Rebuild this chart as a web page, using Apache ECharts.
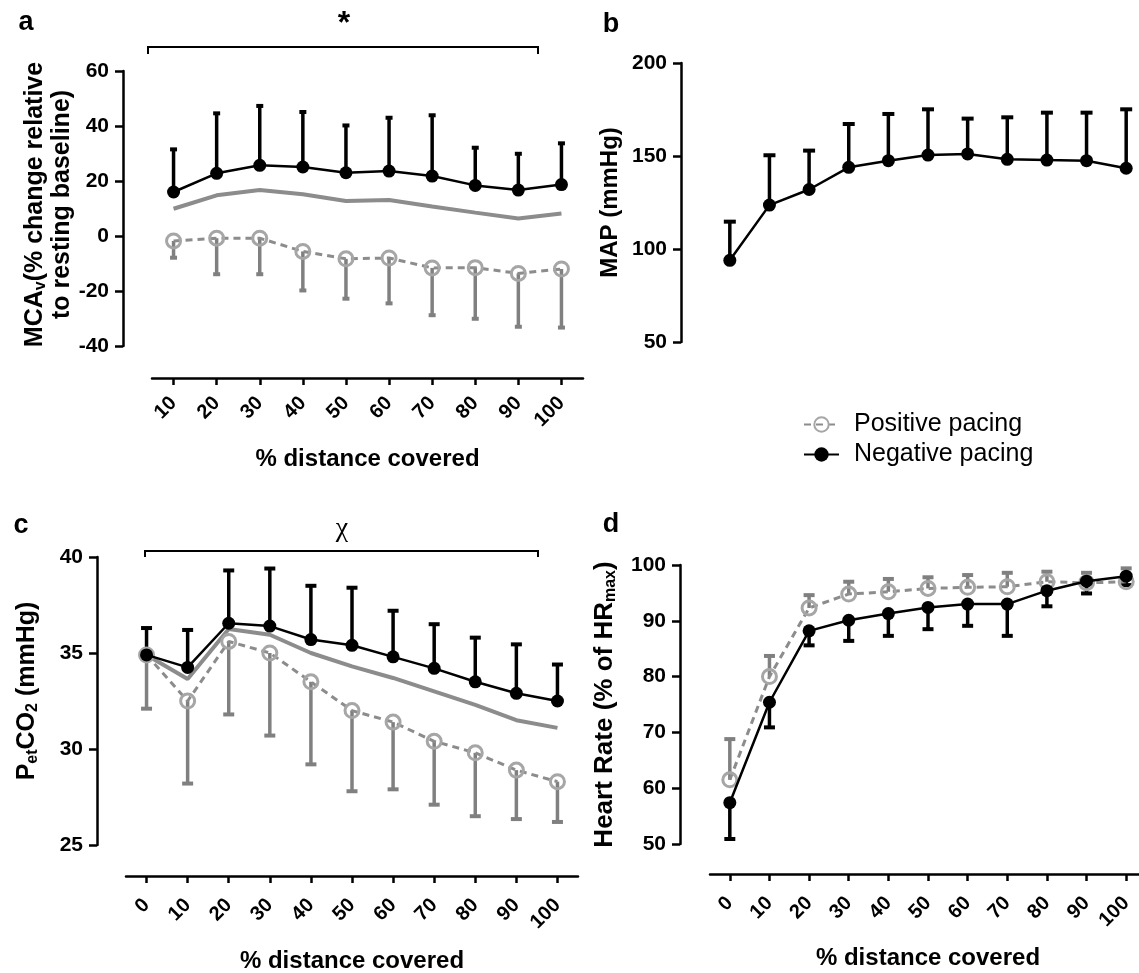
<!DOCTYPE html>
<html>
<head>
<meta charset="utf-8">
<title>Pacing strategy responses</title>
<script src="https://cdn.jsdelivr.net/npm/echarts@6/dist/echarts.min.js"></script>
<style>
  html, body { margin: 0; padding: 0; background: #fff; }
  #chart { width: 1139px; height: 973px; }
</style>
</head>
<body>
<div id="chart"></div>
<script>
// % distance covered
const distA = [10, 20, 30, 40, 50, 60, 70, 80, 90, 100];
const distB = [0, 10, 20, 30, 40, 50, 60, 70, 80, 90, 100];

// a: MCAv, % change relative to resting baseline
const mcaNeg = [16.0, 22.8, 25.7, 25.1, 23.0, 23.6, 21.8, 18.4, 16.7, 18.7];
const mcaNegTop = [31.5, 44.6, 47.3, 45.1, 40.2, 43.0, 43.9, 32.1, 29.9, 33.7];
const mcaPos = [-1.8, -0.8, -0.8, -5.6, -8.3, -8.0, -11.6, -11.5, -13.6, -12.0];
const mcaPosLow = [-7.9, -13.9, -13.9, -19.8, -22.8, -24.5, -28.8, -30.1, -33.0, -33.3];
const mcaAll = [9.9, 14.8, 16.7, 15.2, 12.7, 13.1, 10.7, 8.5, 6.4, 8.2];

// b: MAP (mmHg)
const mapNeg = [93.9, 123.6, 132.0, 143.9, 147.5, 150.5, 151.1, 148.2, 147.8, 147.5, 143.4];
const mapNegTop = [114.7, 150.4, 152.9, 167.2, 172.6, 175.1, 170.1, 170.8, 173.3, 173.3, 175.1];

// c: PetCO2 (mmHg)
const co2Neg = [34.9, 34.25, 36.55, 36.4, 35.7, 35.4, 34.8, 34.2, 33.5, 32.9, 32.5];
const co2NegTop = [36.3, 36.2, 39.3, 39.4, 38.5, 38.4, 37.2, 36.5, 35.8, 35.45, 34.4];
const co2Pos = [34.9, 32.5, 35.6, 35.0, 33.5, 32.0, 31.4, 30.4, 29.8, 28.9, 28.3];
const co2PosLow = [32.1, 28.2, 31.8, 30.7, 29.2, 27.8, 27.9, 27.1, 26.5, 26.35, 26.2];
const co2All = [34.9, 33.65, 36.25, 35.95, 35.0, 34.3, 33.7, 33.0, 32.3, 31.5, 31.1];

// d: heart rate (% of HRmax)
const hrNeg = [57.4, 75.4, 88.2, 90.1, 91.3, 92.4, 93.0, 93.0, 95.4, 97.1, 98.0];
const hrNegLow = [50.9, 70.9, 85.6, 86.4, 87.3, 88.5, 89.1, 87.3, 92.6, 94.9, 96.4];
const hrPos = [61.5, 80.0, 92.3, 94.8, 95.2, 95.8, 96.0, 96.1, 97.0, 96.8, 97.0];
const hrPosTop = [68.8, 83.7, 94.6, 97.0, 97.5, 97.8, 98.2, 98.6, 98.8, 98.6, 99.4];

const FONT = 'Liberation Sans';
const BLACK = '#000';
const GRAY_LINE = '#8c8c8c';
const GRAY_MARK = '#a6a6a6';
const GRAY_BAR = '#808080';

const pairs = (xs, ys) => xs.map((x, i) => [x, ys[i]]);
const bars = (xs, mid, end) => xs.map((x, i) => [x, mid[i], end[i]]);

function richText(size) {
  return {
    t: { fontFamily: FONT, fontWeight: 'bold', fontSize: size, lineHeight: size + 2, color: BLACK },
    s: { fontFamily: FONT, fontWeight: 'bold', fontSize: Math.round(size * 0.62), lineHeight: 10, verticalAlign: 'bottom', color: BLACK }
  };
}

function xAxis(idx, min, ticks, offset, margin, gap, show) {
  return {
    type: 'value', gridIndex: idx, min: min, max: 105, show: show, offset: offset,
    axisLine: { onZero: false, lineStyle: { color: BLACK, width: 2.5 } },
    axisTick: { customValues: ticks, length: 7, lineStyle: { color: BLACK, width: 2.5 } },
    axisLabel: { customValues: ticks, rotate: 45, margin: margin, fontFamily: FONT, fontWeight: 'bold', fontSize: 20, color: BLACK },
    splitLine: { show: false },
    name: '% distance covered', nameLocation: 'middle', nameGap: gap,
    nameTextStyle: { fontFamily: FONT, fontWeight: 'bold', fontSize: 24, color: BLACK }
  };
}

function yAxis(idx, min, max, step, offset, name, gap, size, shift) {
  return {
    type: 'value', gridIndex: idx, min: min, max: max, interval: step, offset: offset,
    axisLine: { show: true, onZero: false, lineStyle: { color: BLACK, width: 2.5 } },
    axisTick: { show: true, length: 8, lineStyle: { color: BLACK, width: 2.5 } },
    axisLabel: { margin: 14, fontFamily: FONT, fontWeight: 'bold', fontSize: 21, color: BLACK },
    splitLine: { show: false },
    name: name, nameLocation: 'middle', nameRotate: 90, nameGap: gap,
    nameTextStyle: { rich: richText(size), padding: [0, 0, 0, shift] }
  };
}

function errBars(idx, xs, mid, end, color, cap) {
  return {
    type: 'custom', xAxisIndex: idx, yAxisIndex: idx, z: 3, silent: true,
    data: bars(xs, mid, end),
    renderItem: function (params, api) {
      const p0 = api.coord([api.value(0), api.value(1)]);
      const p1 = api.coord([api.value(0), api.value(2)]);
      return {
        type: 'group',
        children: [
          { type: 'line', shape: { x1: p0[0], y1: p0[1], x2: p1[0], y2: p1[1] }, style: { stroke: color, lineWidth: 3.5 } },
          { type: 'line', shape: { x1: p1[0] - cap / 2, y1: p1[1], x2: p1[0] + cap / 2, y2: p1[1] }, style: { stroke: color, lineWidth: 4 } }
        ]
      };
    }
  };
}

function negLine(idx, xs, ys) {
  return {
    name: 'Negative pacing', type: 'line', xAxisIndex: idx, yAxisIndex: idx, z: 5,
    data: pairs(xs, ys), symbol: 'circle', symbolSize: 13,
    lineStyle: { color: BLACK, width: 2.5 },
    itemStyle: { color: BLACK }
  };
}

function posLine(idx, xs, ys) {
  return {
    name: 'Positive pacing', type: 'line', xAxisIndex: idx, yAxisIndex: idx, z: 4,
    data: pairs(xs, ys), symbol: 'circle', symbolSize: 14,
    lineStyle: { color: GRAY_LINE, width: 3, type: [7, 5] },
    itemStyle: { color: 'rgba(255,255,255,0)', borderColor: GRAY_MARK, borderWidth: 3 }
  };
}

function meanLine(idx, xs, ys) {
  return {
    name: 'All', type: 'line', xAxisIndex: idx, yAxisIndex: idx, z: 2,
    data: pairs(xs, ys), symbol: 'none',
    lineStyle: { color: GRAY_LINE, width: 4 }
  };
}

const panelText = (label, x, y) => ({
  type: 'text', x: x, y: y,
  style: { text: label, font: 'bold 27px "Liberation Sans"', fill: BLACK, align: 'center', verticalAlign: 'middle' }
});

const option = {
  backgroundColor: '#fff',
  animation: false,
  grid: [
    { left: 152, top: 71, width: 431, height: 275, outerBoundsMode: 'none' },
    { left: 710, top: 63, width: 436, height: 279, outerBoundsMode: 'none' },
    { left: 126, top: 557, width: 452, height: 288, outerBoundsMode: 'none' },
    { left: 710, top: 565, width: 436, height: 279, outerBoundsMode: 'none' }
  ],
  xAxis: [
    xAxis(0, 5, distA, 32, 22, 69, true),
    xAxis(1, -5, distB, 0, 0, 0, false),
    xAxis(2, -5, distB, 31, 26, 73, true),
    xAxis(3, -5, distB, 30, 26, 72, true)
  ],
  yAxis: [
    yAxis(0, -40, 60, 20, 29, '{t|MCA}{s|v}{t|(% change relative}\n{t|to resting baseline)}', 47, 25, 8),
    yAxis(1, 50, 200, 50, 29, '{t|MAP (mmHg)}', 58, 24, 0),
    yAxis(2, 25, 40, 5, 29, '{t|P}{s|et}{t|CO}{s|2}{t| (mmHg)}', 56, 25, 20),
    yAxis(3, 50, 100, 10, 30, '{t|Heart Rate (% of HR}{s|max}{t|)}', 61, 26, 0)
  ],
  legend: {
    data: ['Positive pacing', 'Negative pacing'],
    orient: 'vertical', left: 798, top: 407,
    itemWidth: 35, itemHeight: 18, itemGap: 5, selectedMode: false,
    textStyle: { fontFamily: FONT, fontSize: 25, color: BLACK, padding: [0, 0, 0, 10] }
  },
  series: [
    meanLine(0, distA, mcaAll),
    errBars(0, distA, mcaPos, mcaPosLow, GRAY_BAR, 7),
    errBars(0, distA, mcaNeg, mcaNegTop, BLACK, 7),
    posLine(0, distA, mcaPos),
    negLine(0, distA, mcaNeg),

    errBars(1, distB, mapNeg, mapNegTop, BLACK, 12),
    negLine(1, distB, mapNeg),

    meanLine(2, distB, co2All),
    errBars(2, distB, co2Pos, co2PosLow, GRAY_BAR, 11),
    errBars(2, distB, co2Neg, co2NegTop, BLACK, 11),
    posLine(2, distB, co2Pos),
    negLine(2, distB, co2Neg),

    errBars(3, distB, hrPos, hrPosTop, GRAY_BAR, 11),
    errBars(3, distB, hrNeg, hrNegLow, BLACK, 11),
    posLine(3, distB, hrPos),
    negLine(3, distB, hrNeg)
  ],
  graphic: [
    panelText('a', 26, 23),
    panelText('b', 611, 25),
    panelText('c', 21, 526),
    panelText('d', 611, 525),
    { type: 'text', x: 344, y: 24, style: { text: '*', font: 'bold 32px "Liberation Sans"', fill: BLACK, align: 'center', verticalAlign: 'middle' } },
    { type: 'polyline', shape: { points: [[148, 54], [148, 47], [538, 47], [538, 54]] }, style: { stroke: BLACK, lineWidth: 2, fill: null } },
    { type: 'text', x: 342, y: 529, style: { text: 'χ', font: '28px "Liberation Serif"', fill: BLACK, align: 'center', verticalAlign: 'middle' } },
    { type: 'polyline', shape: { points: [[145, 557], [145, 551], [538, 551], [538, 557]] }, style: { stroke: BLACK, lineWidth: 2, fill: null } }
  ]
};

const chart = echarts.init(document.getElementById('chart'));
chart.setOption(option);
</script>
</body>
</html>
